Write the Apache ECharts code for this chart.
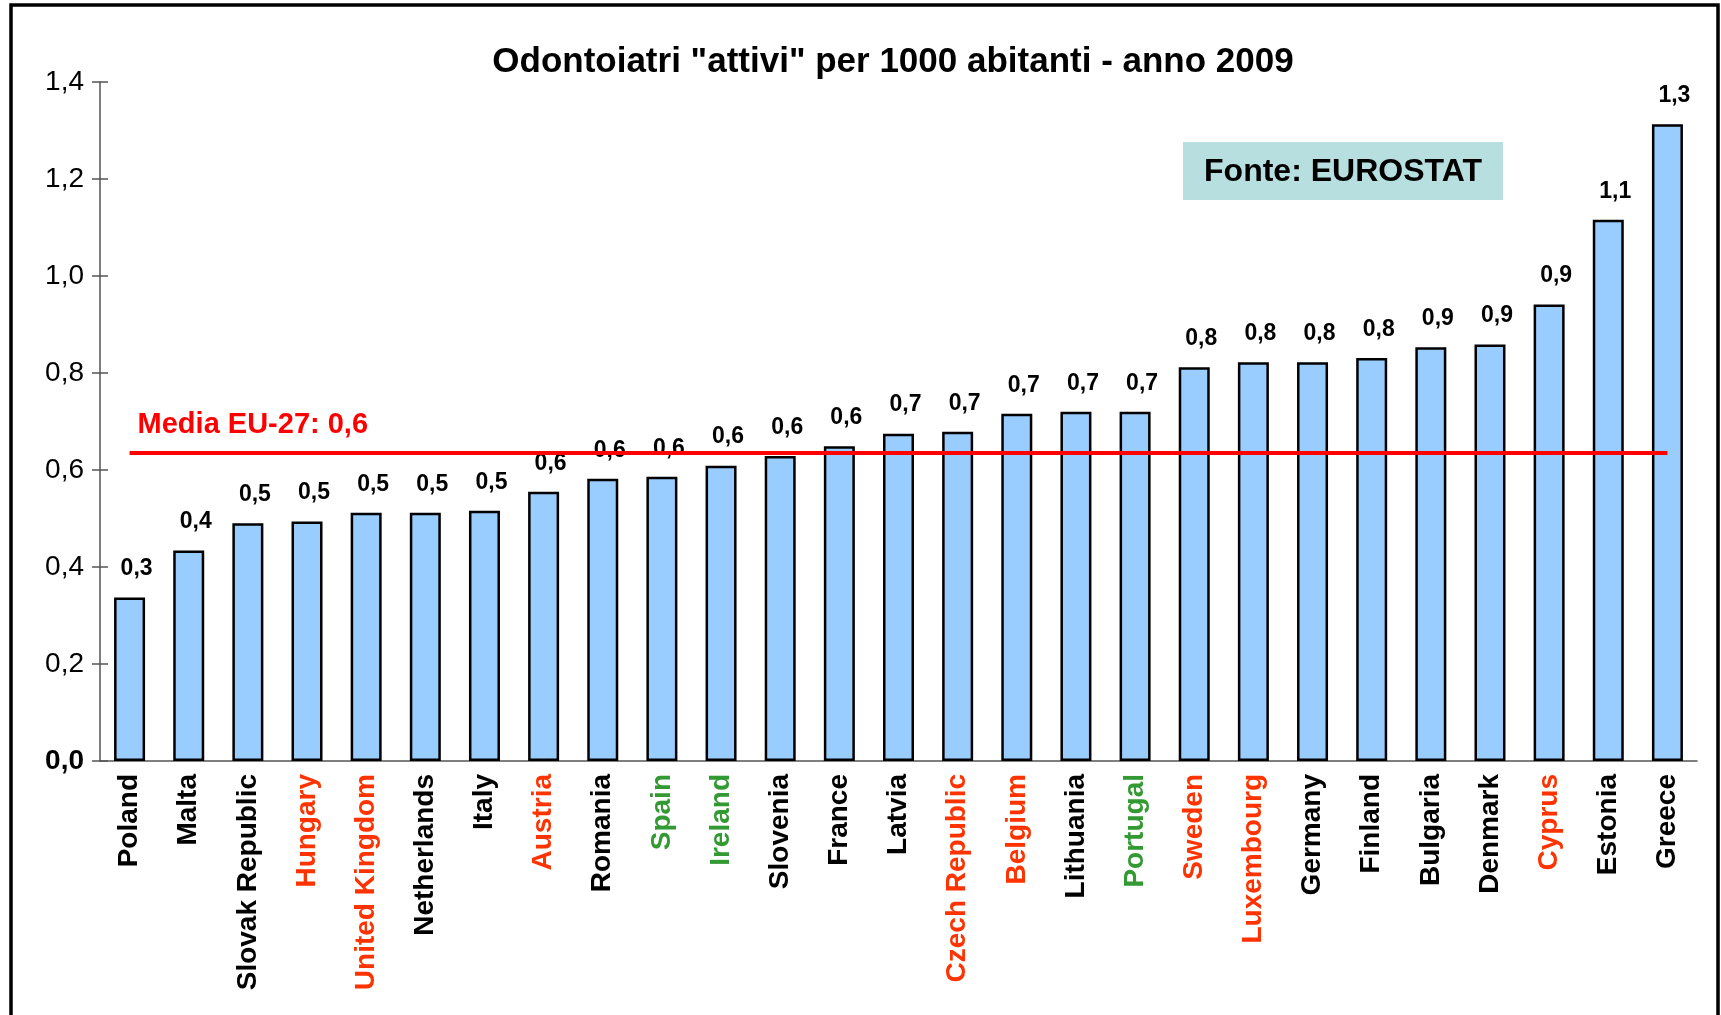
<!DOCTYPE html>
<html>
<head>
<meta charset="utf-8">
<title>Odontoiatri attivi per 1000 abitanti - 2009</title>
<script src="https://cdn.jsdelivr.net/npm/echarts@6/dist/echarts.min.js"></script>
<style>
  html, body { margin: 0; padding: 0; background: #fff; }
  #main { width: 1721px; height: 1015px; }
</style>
</head>
<body>
<div id="main"></div>
<script>
var countries = ['Poland', 'Malta', 'Slovak Republic', 'Hungary', 'United Kingdom', 'Netherlands', 'Italy', 'Austria',
  'Romania', 'Spain', 'Ireland', 'Slovenia', 'France', 'Latvia', 'Czech Republic', 'Belgium', 'Lithuania', 'Portugal',
  'Sweden', 'Luxembourg', 'Germany', 'Finland', 'Bulgaria', 'Denmark', 'Cyprus', 'Estonia', 'Greece'];
var values = [0.337, 0.434, 0.490, 0.494, 0.512, 0.512, 0.516, 0.555,
  0.582, 0.586, 0.609, 0.629, 0.649, 0.675, 0.679, 0.716, 0.720, 0.720,
  0.812, 0.822, 0.822, 0.831, 0.853, 0.859, 0.941, 1.116, 1.313];
var valueLabels = ['0,3', '0,4', '0,5', '0,5', '0,5', '0,5', '0,5', '0,6',
  '0,6', '0,6', '0,6', '0,6', '0,6', '0,7', '0,7', '0,7', '0,7', '0,7',
  '0,8', '0,8', '0,8', '0,8', '0,9', '0,9', '0,9', '1,1', '1,3'];
// colore del nome: k = nero, r = rosso, g = verde
var nameColors = ['k', 'k', 'k', 'r', 'r', 'k', 'k', 'r',
  'k', 'g', 'g', 'k', 'k', 'k', 'r', 'r', 'k', 'g',
  'r', 'r', 'k', 'k', 'k', 'k', 'r', 'k', 'k'];
var euMean = 0.635;
var euLabel = 'Media EU-27: 0,6';
var yTicks = [0, 0.2, 0.4, 0.6, 0.8, 1.0, 1.2, 1.4];

var FONT = '"Liberation Sans", Arial, sans-serif';
var colorMap = { k: '#000000', r: '#ff3300', g: '#339933' };

var myChart = echarts.init(document.getElementById('main'));

var option = {
  animation: false,
  backgroundColor: '#ffffff',
  textStyle: { fontFamily: FONT },
  title: {
    text: 'Odontoiatri "attivi" per 1000 abitanti - anno 2009',
    left: 888,
    top: 40,
    textAlign: 'center',
    textStyle: { fontFamily: FONT, fontSize: 35, fontWeight: 'bold', color: '#000' }
  },
  grid: { left: 100, right: 24, top: 82, bottom: 254 },
  xAxis: [{
    type: 'category',
    data: countries,
    axisLine: { lineStyle: { color: '#555', width: 1.5 } },
    axisTick: { length: 8, lineStyle: { color: '#555', width: 1.5 } },
    axisLabel: {
      rotate: 90,
      margin: 13,
      interval: 0,
      fontFamily: FONT,
      fontSize: 28,
      fontWeight: 'bold',
      color: function (val, idx) { return colorMap[nameColors[idx]]; }
    }
  }, {
    type: 'category',
    data: countries,
    position: 'bottom',
    axisLine: { show: false },
    axisTick: { inside: true, length: 8, lineStyle: { color: '#555', width: 1.5 } },
    axisLabel: { show: false }
  }],
  yAxis: [{
    type: 'value',
    min: yTicks[0],
    max: yTicks[yTicks.length - 1],
    interval: 0.2,
    axisLine: { show: true, lineStyle: { color: '#555', width: 1.5 } },
    axisTick: { show: true, length: 8, lineStyle: { color: '#555', width: 1.5 } },
    splitLine: { show: false },
    axisLabel: {
      margin: 16,
      fontFamily: FONT,
      fontSize: 28,
      color: '#000',
      formatter: function (v) {
        var s = v.toFixed(1).replace('.', ',');
        return v === 0 ? '{b|' + s + '}' : s;
      },
      rich: { b: { fontFamily: FONT, fontSize: 28, fontWeight: 'bold', color: '#000' } }
    }
  }, {
    type: 'value',
    position: 'left',
    min: yTicks[0],
    max: yTicks[yTicks.length - 1],
    interval: 0.2,
    axisLine: { show: false },
    axisTick: { show: true, inside: true, length: 8, lineStyle: { color: '#555', width: 1.5 } },
    axisLabel: { show: false },
    splitLine: { show: false }
  }],
  series: [{
    type: 'bar',
    data: values,
    barWidth: 31,
    itemStyle: { color: '#99ccff', borderColor: '#000', borderWidth: 2.5 },
    label: {
      show: true,
      position: 'top',
      distance: 17,
      offset: [7, 0],
      fontFamily: FONT,
      fontSize: 23,
      fontWeight: 'bold',
      color: '#000',
      formatter: function (p) { return valueLabels[p.dataIndex]; }
    },
    markLine: {
      silent: true,
      symbol: 'none',
      lineStyle: { color: '#ff0000', width: 4, type: 'solid' },
      label: {
        show: true,
        position: 'insideStartTop',
        distance: [8, 14],
        formatter: euLabel,
        fontFamily: FONT,
        fontSize: 29,
        fontWeight: 'bold',
        color: '#ff0000'
      },
      data: [[{ coord: [0, euMean] }, { coord: [countries.length - 1, euMean] }]]
    }
  }],
  graphic: [{
    type: 'rect',
    shape: { x: 11, y: 5, width: 1707, height: 1020 },
    style: { fill: 'none', stroke: '#000', lineWidth: 3.5 },
    z: 100
  }, {
    type: 'rect',
    shape: { x: 1183, y: 142, width: 320, height: 58 },
    style: { fill: '#b8dfe0' },
    z: 50
  }, {
    type: 'text',
    x: 1343,
    y: 172,
    style: {
      text: 'Fonte: EUROSTAT',
      textAlign: 'center',
      textVerticalAlign: 'middle',
      font: 'bold 32px ' + FONT,
      fill: '#000'
    },
    z: 51
  }]
};

myChart.setOption(option);
</script>
</body>
</html>
